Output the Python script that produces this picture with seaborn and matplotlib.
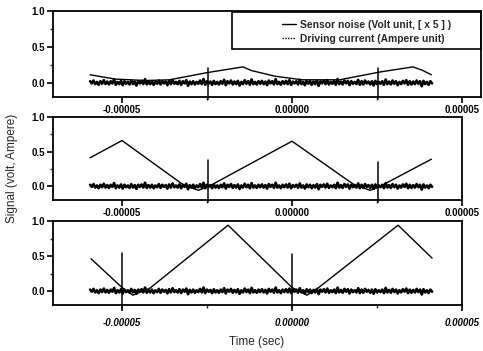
import numpy as np
import pandas as pd
import matplotlib
matplotlib.use("Agg")
import matplotlib.pyplot as plt
import seaborn as sns
from matplotlib.lines import Line2D
from matplotlib.patches import Rectangle
from matplotlib.ticker import FixedLocator, MultipleLocator

sns.set_theme(style="ticks")
plt.rcParams['font.family'] = ['Liberation Sans', 'DejaVu Sans']

# ---------------- data ----------------
xticks = [-0.00005, 0.0, 0.00005]
xtick_labels = ['-0.00005', '0.00000', '0.00005']
yticks = [0.0, 0.5, 1.0]
ytick_labels = ['0.0', '0.5', '1.0']
legend_labels = ['Sensor noise (Volt unit, [ x 5 ] )', 'Driving current (Ampere unit)']

# triangle (sensor) waveform breakpoints per panel
tri_t_1 = [-5.94e-5, -5.2e-5, -4.3e-5, -3.6e-5, -2.5e-5, -1.44e-5, -1.2e-5, -0.5e-5, 0.3e-5, 1.4e-5, 2.6e-5, 3.56e-5, 3.85e-5, 4.1e-5]
tri_v_1 = [0.11, 0.05, 0.03, 0.04, 0.14, 0.22, 0.17, 0.09, 0.04, 0.04, 0.15, 0.22, 0.17, 0.11]
tri_t_2 = [-5.94e-5, -5.0e-5, -3.2e-5, -2.75e-5, -2.4e-5, 0.0, 1.8e-5, 2.3e-5, 2.6e-5, 4.1e-5]
tri_v_2 = [0.41, 0.66, 0.02, -0.06, 0.01, 0.65, 0.03, -0.06, 0.0, 0.39]
tri_t_3 = [-5.91e-5, -5.0e-5, -4.68e-5, -4.18e-5, -1.88e-5, 0.0, 0.44e-5, 0.76e-5, 3.12e-5, 4.12e-5]
tri_v_3 = [0.46, 0.05, -0.06, 0.04, 0.94, 0.05, -0.06, 0.04, 0.94, 0.47]

# spikes in the noisy trace per panel
spike_t_1 = [-2.47e-5, 2.53e-5]
spike_up_1 = [0.21, 0.21]
spike_dn_1 = [-0.23, -0.23]
spike_t_2 = [-2.47e-5, 2.53e-5]
spike_up_2 = [0.38, 0.35]
spike_dn_2 = [-0.23, -0.23]
spike_t_3 = [-5.0e-5, 0.0]
spike_up_3 = [0.54, 0.53]
spike_dn_3 = [-0.24, -0.23]

noise_start, noise_end = -5.94e-5, 4.12e-5
noise = [
    0.02, -0.01, 0.03, -0.02, 0.01, -0.03, 0.02, -0.015, 0.035, -0.02,
    0.015, -0.025, 0.02, -0.01, 0.045, -0.03, 0.01, -0.02, 0.025, -0.035,
    0.02, -0.015, 0.01, -0.025, 0.03, -0.02, 0.015, -0.04, 0.02, -0.01,
    0.025, -0.02, 0.05, -0.025, 0.015, -0.02, 0.02, -0.03, 0.01, -0.015,
    0.03, -0.025, 0.02, -0.01, 0.015, -0.035, 0.025, -0.02, 0.04, -0.015,
    0.01, -0.02, 0.025, -0.03, 0.02, -0.01, 0.035, -0.045, 0.015, -0.02,
    0.02, -0.025, 0.01, -0.015, 0.03, -0.02, 0.05, -0.03, 0.02, -0.01,
    0.015, -0.03, 0.025, -0.02, 0.01, -0.025, 0.02, -0.015, 0.04, -0.035,
    0.02, -0.01, 0.03, -0.025, 0.015, -0.02, 0.025, -0.04, 0.01, -0.02,
    0.035, -0.015, 0.02, -0.03, 0.045, -0.02, 0.01, -0.025, 0.02, -0.015,
    0.025, -0.02, 0.015, -0.035, 0.03, -0.01, 0.02, -0.025, 0.05, -0.02,
    0.01, -0.03, 0.02, -0.015, 0.025, -0.02, 0.035, -0.03, 0.015, -0.01,
    0.02, -0.025, 0.04, -0.02, 0.01, -0.035, 0.025, -0.015, 0.02, -0.03,
    0.015, -0.02, 0.03, -0.045, 0.02, -0.01, 0.025, -0.02, 0.035, -0.025,
    0.01, -0.015, 0.02, -0.03, 0.05, -0.02, 0.015, -0.025, 0.03, -0.01,
    0.025, -0.035, 0.02, -0.015, 0.01, -0.02, 0.04, -0.03, 0.02, -0.025,
    0.03, -0.01, 0.015, -0.025, 0.02, -0.04, 0.025, -0.02, 0.01, -0.015,
    0.02, -0.03, 0.045, -0.02, 0.015, -0.025, 0.03, -0.015, 0.02, -0.035,
    0.01, -0.02, 0.025, -0.01, 0.035, -0.03, 0.02, -0.025, 0.015, -0.02,
    0.03, -0.015, 0.02, -0.05, 0.025, -0.02, 0.01, -0.03, 0.02, -0.01,
]

noise_df = pd.DataFrame({"t": np.linspace(noise_start, noise_end, len(noise)), "v": noise})


def spike_frame(spike_t, spike_up, spike_dn):
    rows = []
    for j, (ts, up, dn) in enumerate(zip(spike_t, spike_up, spike_dn)):
        rows.append({"t": ts, "v": up, "id": j})
        rows.append({"t": ts, "v": dn, "id": j})
    return pd.DataFrame(rows)


panels = [
    (tri_t_1, tri_v_1, spike_t_1, spike_up_1, spike_dn_1),
    (tri_t_2, tri_v_2, spike_t_2, spike_up_2, spike_dn_2),
    (tri_t_3, tri_v_3, spike_t_3, spike_up_3, spike_dn_3),
]

# ---------------- figure ----------------
W, H = 483, 351
fig = plt.figure(figsize=(W / 100, H / 100), dpi=100)

# axes rectangles in pixels: left, right, top, bottom
rects = [(53, 481, 11, 97), (53, 462, 117, 200), (53, 462, 221, 305)]
xlims = [(-7.03e-5, 5.56e-5), (-7.03e-5, 5.0e-5), (-7.03e-5, 5.0e-5)]

axes = []
for k, ((l, r, t, b), xl, (tt, tv, st, su, sd)) in enumerate(zip(rects, xlims, panels)):
    ax = fig.add_axes([l / W, 1 - b / H, (r - l) / W, (b - t) / H])
    axes.append(ax)
    sns.lineplot(data=noise_df, x="t", y="v", estimator=None, sort=False,
                 color="black", linewidth=1.9, ax=ax)
    sp = spike_frame(st, su, sd)
    sns.lineplot(data=sp, x="t", y="v", units="id", estimator=None, sort=False,
                 color="black", linewidth=1.1, ax=ax, clip_on=False)
    tri = pd.DataFrame({"t": tt, "v": tv})
    sns.lineplot(data=tri, x="t", y="v", estimator=None, sort=False,
                 color="black", linewidth=1.0, ax=ax)
    ax.set_xlim(*xl)
    ax.set_ylim(-0.2, 1.0)
    ax.set_xlabel("")
    ax.set_ylabel("")
    ax.xaxis.set_major_locator(FixedLocator(xticks))
    ax.set_xticklabels(xtick_labels)
    ax.xaxis.set_minor_locator(MultipleLocator(2.5e-5))
    ax.yaxis.set_major_locator(FixedLocator(yticks))
    ax.set_yticklabels(ytick_labels)
    ax.yaxis.set_minor_locator(MultipleLocator(0.25))
    for s in ax.spines.values():
        s.set_linewidth(1.3)
        s.set_color("black")
    ax.tick_params(axis="both", which="major", length=4, width=1.2, pad=2,
                   labelsize=7, colors="black")
    ax.tick_params(axis="both", which="minor", length=2, width=1.0)
    for lab in ax.get_xticklabels() + ax.get_yticklabels():
        lab.set_fontweight("bold")
    if k == 2:
        for lab in ax.get_xticklabels():
            lab.set_fontstyle("italic")
        ax.tick_params(axis="x", which="major", pad=5)
    ax.set_facecolor("white")

# legend in top panel
ax0 = axes[0]
handles = [Line2D([], [], color="black", lw=1.0),
           Line2D([], [], color="black", lw=1.0, linestyle=(0, (1, 1)))]
ax0.add_patch(Rectangle((0.418, 0.558), 0.582, 0.43, transform=ax0.transAxes,
                        fill=False, edgecolor="black", linewidth=1.2, clip_on=False))
ax0.legend(handles, legend_labels, loc="upper left", bbox_to_anchor=(0.535, 0.9),
           frameon=False, handlelength=1.4, handletextpad=0.4,
           borderpad=0, borderaxespad=0, labelspacing=0.4,
           prop={"family": ["Liberation Sans"], "size": 7.4, "weight": "bold"})

fig.text(12 / W, 1 - 168 / H, "Signal (volt, Ampere)", rotation=90,
         ha="center", va="center", fontsize=8.5)
fig.text(257 / W, 1 - 342 / H, "Time (sec)", ha="center", va="center", fontsize=8.5)

fig.savefig("out.png", dpi=100, facecolor="white")
